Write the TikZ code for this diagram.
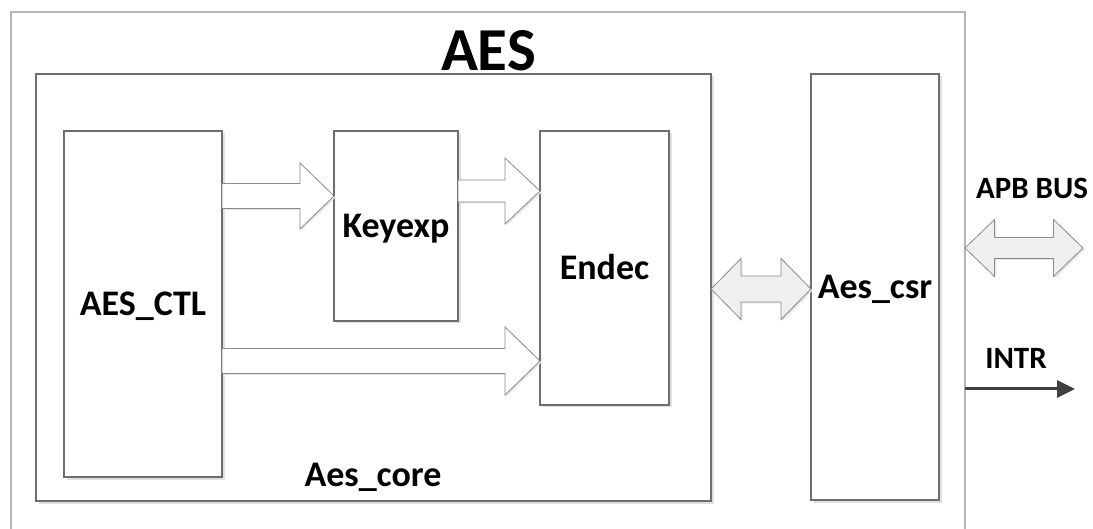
\documentclass[tikz,border=0pt]{standalone}
\usepackage{fontspec}
\setmainfont{Carlito}
\usetikzlibrary{calc,shadows,arrows.meta}

\definecolor{frameline}{HTML}{B4B4B4}
\definecolor{boxline}{HTML}{6E6E6E}
\definecolor{arrline}{HTML}{8A8A8A}
\definecolor{dblfill}{HTML}{EFEFEF}
\definecolor{intrcol}{HTML}{404040}

% single block arrow: style, from, to, half shaft, half head, head length
\newcommand\flowarrow[6]{%
  \path[#1] let \p1=(#2), \p2=(#3) in
    (\x1,\y1+#4) -- (\x2-#6,\y1+#4) -- (\x2-#6,\y1+#5) -- (\x2,\y1)
    -- (\x2-#6,\y1-#5) -- (\x2-#6,\y1-#4) -- (\x1,\y1-#4) -- cycle;
}
% double block arrow: style, from, to, half shaft, half head, head length
\newcommand\busarrow[6]{%
  \path[#1] let \p1=(#2), \p2=(#3) in
    (\x1,\y1) -- (\x1+#6,\y1+#5) -- (\x1+#6,\y1+#4) -- (\x2-#6,\y1+#4)
    -- (\x2-#6,\y1+#5) -- (\x2,\y1) -- (\x2-#6,\y1-#5) -- (\x2-#6,\y1-#4)
    -- (\x1+#6,\y1-#4) -- (\x1+#6,\y1-#5) -- cycle;
}

\tikzset{
  % text box reduced to the capital height, so capitals sit on the node centre
  capbox/.style={text height=#1, text depth=0pt},
  lbl/.style={font=\fontsize{36}{42}\selectfont\bfseries, capbox=22.75pt},
  small/.style={font=\fontsize{31}{36}\selectfont\bfseries, capbox=19.6pt},
  frame/.style={draw=frameline, line width=1.8pt, inner sep=0, outer sep=0, anchor=north west},
  blk/.style={draw=boxline, line width=1.1pt, fill=white, inner sep=0, outer sep=0,
    anchor=north west, lbl,
    drop shadow={shadow xshift=2.5pt, shadow yshift=-2.5pt, fill=black!12, opacity=1}},
  sarrow/.style={draw=arrline, line width=0.8pt, fill=white, line join=miter,
    drop shadow={shadow xshift=1.5pt, shadow yshift=-1.5pt, fill=black!10, opacity=1}},
  darrow/.style={draw=arrline, line width=0.8pt, fill=dblfill, line join=miter,
    drop shadow={shadow xshift=1.5pt, shadow yshift=-1.5pt, fill=black!10, opacity=1}},
}

\begin{document}
\begin{tikzpicture}[x=1pt, y=-1pt]
  \useasboundingbox (0,0) rectangle (1093,529);
  \clip (0,0) rectangle (1093,529);
  \fill[white] (0,0) rectangle (1093,529);

  % outer AES frame (runs past the lower edge)
  \node[frame, minimum width=954pt, minimum height=560pt] (aes) at (11,12) {};
  \node[font=\fontsize{61}{68}\selectfont\bfseries, capbox=38.5pt, inner sep=0] (title) at (488.5,51) {AES};

  % core and register blocks
  \node[blk, minimum width=675pt, minimum height=427pt] (core) at (36,74) {};
  \node[lbl, inner sep=0] (corelbl) at (373,475.5) {Aes\_core};
  \node[blk, minimum width=128pt, minimum height=426pt] (csr) at (811,74) {Aes\_csr};

  % inner blocks
  \node[blk, minimum width=158pt, minimum height=346pt] (ctl) at (64,131) {AES\_CTL};
  \node[blk, minimum width=124pt, minimum height=190pt] (key) at (334,131) {Keyexp};
  \node[blk, minimum width=129pt, minimum height=274pt] (endec) at (540,131) {Endec};

  % arrow heights
  \coordinate (h1) at (0,196);
  \coordinate (h2) at (0,191);
  \coordinate (h3) at (0,361);
  \coordinate (h4) at (0,289);
  \coordinate (h5) at (0,248);
  \coordinate (h6) at (0,389);

  \flowarrow{sarrow}{ctl.east |- h1}{key.west |- h1}{12.5pt}{33pt}{34pt}
  \flowarrow{sarrow}{key.east |- h2}{endec.west |- h2}{11pt}{33pt}{35pt}
  \flowarrow{sarrow}{ctl.east |- h3}{endec.west |- h3}{12.5pt}{34pt}{35pt}
  \busarrow{darrow}{core.east |- h4}{csr.west |- h4}{13pt}{30.5pt}{30pt}

  % external interface
  \coordinate (apbend) at (1083,248);
  \busarrow{darrow}{aes.east |- h5}{apbend}{10.5pt}{28.5pt}{29.5pt}
  \node[small, inner sep=0] (apblbl) at (1032,188.5) {APB BUS};

  \coordinate (intrend) at (1075,389);
  \draw[draw=intrcol, line width=3pt, -{Triangle[length=18pt,width=17pt]}]
    (aes.east |- h6) -- (intrend);
  \node[small, inner sep=0] (intrlbl) at (1016,359) {INTR};
\end{tikzpicture}
\end{document}
